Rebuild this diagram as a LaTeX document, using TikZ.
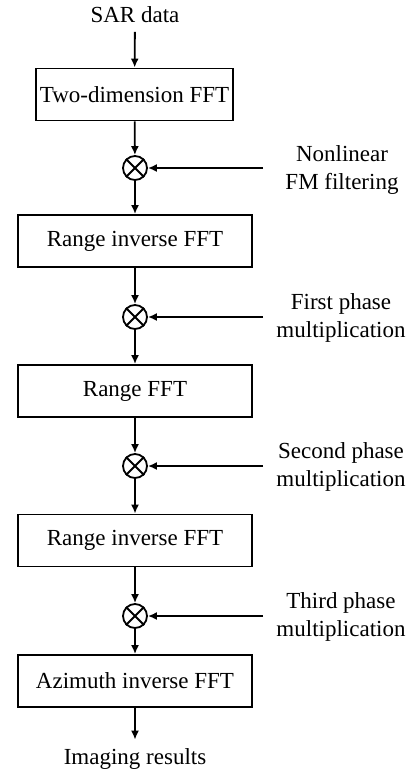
\documentclass[tikz,border=0pt]{standalone}
\usepackage{fontspec}
\setmainfont{Liberation Serif}
\usetikzlibrary{arrows.meta}

\begin{document}
\begin{tikzpicture}[x=0.5pt, y=-0.5pt, line width=0.9pt, every node/.style={font=\fontsize{11.5}{14}\selectfont}, >={Latex[length=4.5pt,width=4pt]}, block/.style={draw, minimum width=117pt, minimum height=26pt, inner sep=2pt}, mult/.style={draw, circle, minimum size=12pt, inner sep=0pt}, lbl/.style={align=center, inner sep=4pt}]
	\useasboundingbox (0,0) rectangle (413,776);
	\node[lbl] (sar) at (135,15) {SAR data};
	\node[block, minimum width=97.5pt] (fft2) at (134.5,94.5) {Two-dimension FFT};
	\node[mult] (m1) at (135,168) {};
	\node[block] (rifft1) at (135,241) {Range inverse FFT};
	\node[mult] (m2) at (135,317) {};
	\node[block] (rfft) at (135,391) {Range FFT};
	\node[mult] (m3) at (135,466) {};
	\node[block] (rifft2) at (135,540.5) {Range inverse FFT};
	\node[mult] (m4) at (135,616) {};
	\node[block] (aifft) at (135,681) {Azimuth inverse FFT};
	\node[lbl] (res) at (135,759) {Imaging results};
	\node[lbl] (l1) at (342,170) {Nonlinear\\FM filtering};
	\node[lbl] (l2) at (341,318) {First phase\\multiplication};
	\node[lbl] (l3) at (341,467) {Second phase\\multiplication};
	\node[lbl] (l4) at (341,617) {Third phase\\multiplication};
	\coordinate (in1) at (263,168);
	\coordinate (in2) at (263,317);
	\coordinate (in3) at (263,466);
	\coordinate (in4) at (263,616);
	\foreach \m in {m1,m2,m3,m4}
		\draw (\m.north east) -- (\m.south west) (\m.north west) -- (\m.south east);
	\draw[->] (sar) -- (fft2);
	\draw[->] (fft2) -- (m1);
	\draw[->] (m1) -- (rifft1);
	\draw[->] (rifft1) -- (m2);
	\draw[->] (m2) -- (rfft);
	\draw[->] (rfft) -- (m3);
	\draw[->] (m3) -- (rifft2);
	\draw[->] (rifft2) -- (m4);
	\draw[->] (m4) -- (aifft);
	\draw[->] (aifft) -- (res);
	\draw[->] (in1) -- (m1);
	\draw[->] (in2) -- (m2);
	\draw[->] (in3) -- (m3);
	\draw[->] (in4) -- (m4);
\end{tikzpicture}
\end{document}
